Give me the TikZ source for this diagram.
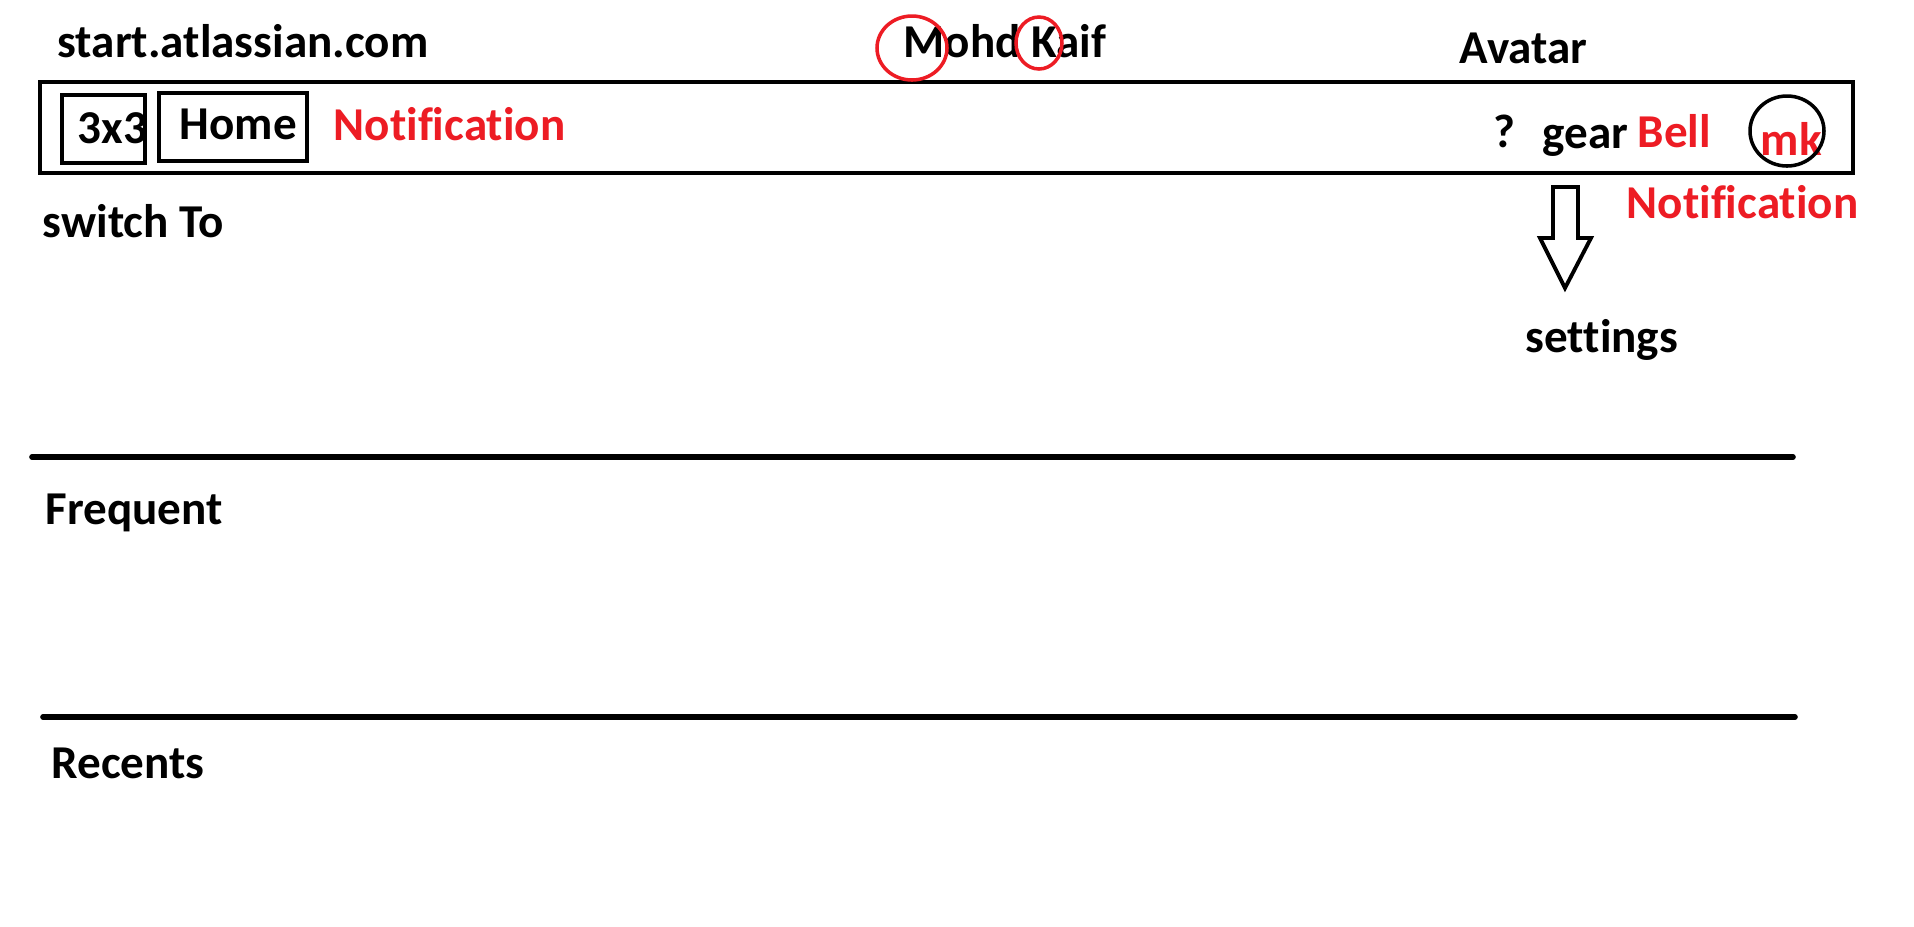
\documentclass[tikz,border=0pt]{standalone}
\usepackage{fontspec}
\setmainfont[Ligatures=NoCommon]{Carlito}
\definecolor{paintred}{RGB}{237,28,36}
\tikzset{
  lbl/.style={anchor=base west, inner sep=0pt, font=\fontsize{13.4}{15}\selectfont\bfseries},
  redlbl/.style={lbl, text=paintred},
  sepline/.style={line width=1.6pt, line cap=round},
  boxline/.style={line width=1.4pt},
}
\begin{document}
\begin{tikzpicture}[x=0.01cm, y=-0.01cm]
\useasboundingbox (0,0) rectangle (1914,926);

\draw[line width=1.35pt] (40,82) rectangle (1853,173);
\draw[boxline] (62,95) rectangle (145,163);
\draw[boxline] (159,93) rectangle (307,161);

\node[lbl] (site) at (57,57) {start.atlassian.com};
\node[lbl] (user) at (903,57) {Mohd Kaif};
\node[lbl] (avatar) at (1459,63) {Avatar};
\node[lbl] (apps) at (77,143) {3x3};
\node[lbl] (home) at (179,139) {Home};
\node[redlbl] (notif) at (333,140) {Notification};
\node[lbl] (help) at (1493,147) {?};
\node[lbl] (gear) at (1542,148) {gear};
\node[redlbl] (bell) at (1637,147) {Bell};
\node[redlbl] (mk) at (1760,155) {mk};
\node[redlbl] (notifmenu) at (1626,218) {Notification};
\node[lbl] (settings) at (1525,352) {settings};
\node[lbl] (switch) at (42,237) {switch To};
\node[lbl] (freq) at (45,524) {Frequent};
\node[lbl] (recent) at (51,778) {Recents};

\draw[paintred, line width=1pt] (912,48) ellipse (35 and 32);
\draw[paintred, line width=1pt] (1039,43) ellipse (23 and 26);
\draw[line width=1pt] (1787,131) ellipse (37 and 35);

\draw[line width=1.1pt, line join=miter] (1553,187) -- (1578,187) -- (1578,238) -- (1591,238)
  -- (1565,288) -- (1540,238) -- (1553,238) -- cycle;

\draw[sepline] (32,457) -- (1793,457);
\draw[sepline] (43,717) -- (1795,717);
\end{tikzpicture}
\end{document}
